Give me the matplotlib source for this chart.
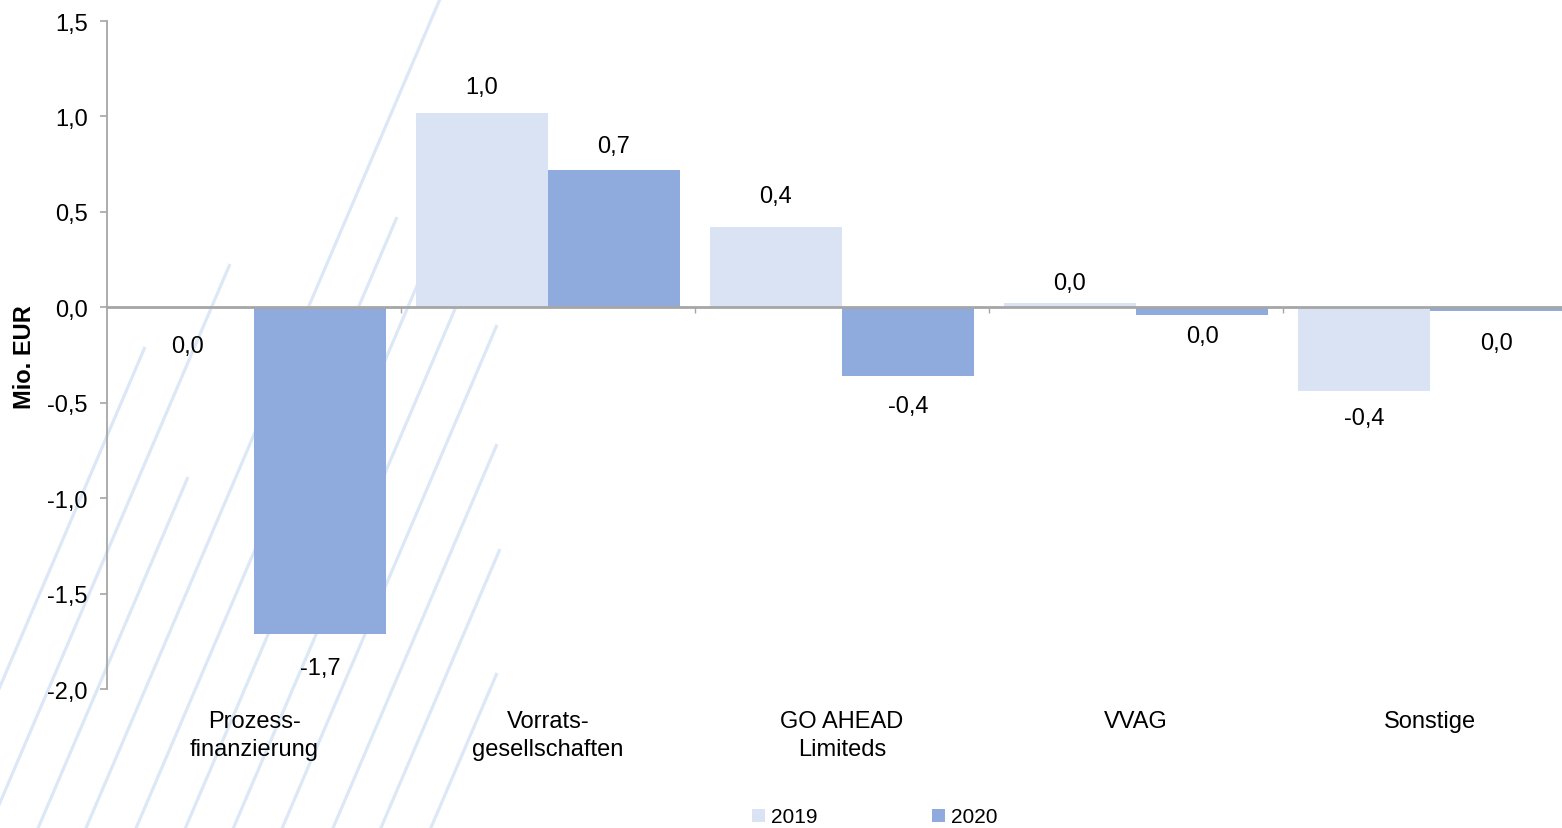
import matplotlib
matplotlib.use('Agg')
import matplotlib.pyplot as plt
from matplotlib.lines import Line2D
from matplotlib.patches import Patch
from matplotlib.ticker import FuncFormatter, FixedLocator

plt.rcParams['font.family'] = ['Liberation Sans', 'DejaVu Sans']

categories = ['Prozess-\nfinanzierung', 'Vorrats-\ngesellschaften', 'GO AHEAD\nLimiteds', 'VVAG', 'Sonstige']
years = ['2019', '2020']
values_2019 = [-0.01, 1.02, 0.42, 0.02, -0.44]
values_2020 = [-1.71, 0.72, -0.36, -0.04, -0.02]
y_ticks = [-2.0, -1.5, -1.0, -0.5, 0.0, 0.5, 1.0, 1.5]

COL_2019 = '#dae3f3'
COL_2020 = '#8faadc'
GREY = '#a6a6a6'
STRIPE = '#dce8f6'

W, H = 1562, 829

# distance (px) of each value label from its bar end, + is upward
label_shift_2019 = [-37, 26, 31, 20, -27]
label_shift_2020 = [-34, 24, -30, -21, -32]


def de_fmt(v):
    s = f'{v:.1f}'.replace('.', ',')
    if s == '-0,0':
        s = '0,0'
    return s


def px(x, y):
    # pixel position (from top-left) -> figure fraction
    return x / W, 1 - y / H


def add_stripes(fig):
    # decorative diagonal lines in the background, given by their upper end
    tops = [(440, 0), (230, 265), (397, 218), (145, 348), (497, 326),
            (188, 478), (497, 445), (500, 550), (497, 674), (454, 200), (502, 200)]
    slope = 0.427
    for x0, y0 in tops:
        y1 = H + 20
        x1 = x0 - slope * (y1 - y0)
        a = px(x0, y0)
        b = px(x1, y1)
        fig.add_artist(Line2D([a[0], b[0]], [a[1], b[1]], transform=fig.transFigure,
                              color=STRIPE, lw=2.3, zorder=-1, solid_capstyle='butt'))


fig = plt.figure(figsize=(W / 100, H / 100), dpi=100)
add_stripes(fig)

left, right, top, bottom = 107, 1577, 22, 690
ax = fig.add_axes([left / W, 1 - bottom / H, (right - left) / W, (bottom - top) / H])
ax.patch.set_facecolor('none')

n = len(categories)
xs = list(range(n))
bw = 0.449
b1 = ax.bar([x - bw / 2 for x in xs], values_2019, width=bw, color=COL_2019, zorder=1)
b2 = ax.bar([x + bw / 2 for x in xs], values_2020, width=bw, color=COL_2020, zorder=1)

ax.set_xlim(-0.5, n - 0.5)
ax.set_ylim(-2.0, 1.5)

# value labels outside the bar ends
for bars, vals, shifts in ((b1, values_2019, label_shift_2019), (b2, values_2020, label_shift_2020)):
    for rect, v, sh in zip(bars, vals, shifts):
        cx = rect.get_x() + rect.get_width() / 2
        ax.annotate(de_fmt(v), (cx, v), xytext=(0, sh * 0.72), textcoords='offset points',
                    ha='center', va='center', fontsize=17, color='black')

# axes styling
for s in ('top', 'right'):
    ax.spines[s].set_visible(False)
ax.spines['left'].set_color(GREY)
ax.spines['left'].set_linewidth(1.3)
ax.spines['bottom'].set_position(('data', 0))
ax.spines['bottom'].set_color(GREY)
ax.spines['bottom'].set_linewidth(2)

ax.yaxis.set_major_locator(FixedLocator(y_ticks))
ax.yaxis.set_major_formatter(FuncFormatter(lambda v, p: de_fmt(v)))
ax.tick_params(axis='y', direction='out', length=5, width=1.2, color=GREY,
               labelsize=17, pad=9, labelcolor='black')
ax.xaxis.set_major_locator(FixedLocator([x + 0.5 for x in xs[:-1]]))
ax.tick_params(axis='x', direction='out', length=4, width=1, color=GREY,
               labelbottom=False)

# category names below the plot area
for x, name in zip(xs, categories):
    ax.text(x, -21 / (bottom - top), name, transform=ax.get_xaxis_transform(),
            ha='center', va='top', fontsize=17, linespacing=1.34)

fig.text(25 / W, 1 - 357 / H, 'Mio. EUR', rotation=90, ha='center', va='center',
         fontsize=17, fontweight='bold')

handles = [Patch(facecolor=COL_2019, edgecolor='none'), Patch(facecolor=COL_2020, edgecolor='none')]
fig.legend(handles, years, loc='center', bbox_to_anchor=px(875, 818), ncol=2,
           frameon=False, fontsize=15, handlelength=0.6, handleheight=0.6,
           handletextpad=0.3, columnspacing=5.5, borderaxespad=0)

fig.savefig('out.png', dpi=100)
